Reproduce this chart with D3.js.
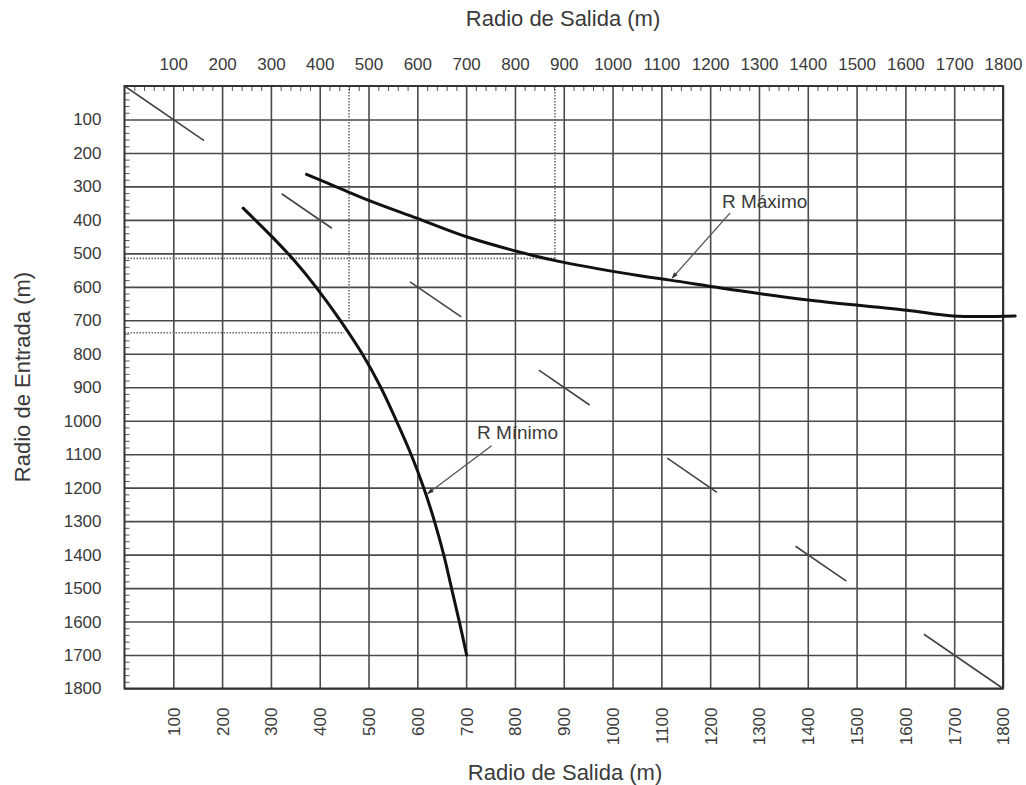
<!DOCTYPE html>
<html>
<head>
<meta charset="utf-8">
<script src="https://cdn.jsdelivr.net/npm/d3@7"></script>
<style>
  html, body { margin: 0; padding: 0; background: #fff; }
  svg { display: block; }
  text { font-family: "Liberation Sans", Arial, sans-serif; fill: #3a3a3a; }
</style>
</head>
<body>
<svg id="chart" width="1026" height="785"></svg>
<script>
// ---------------- DATA ----------------
const salidaTicks  = [100,200,300,400,500,600,700,800,900,1000,1100,1200,1300,1400,1500,1600,1700,1800];
const entradaTicks = [100,200,300,400,500,600,700,800,900,1000,1100,1200,1300,1400,1500,1600,1700,1800];

// R Mínimo curve: [radio de salida, radio de entrada]
const rMinimo = [[243,365],[302,450],[350,525],[392,600],[442,700],[487,800],[525,900],[557,1000],[587,1100],[613,1200],[635,1300],[654,1400],[670,1500],[686,1600],[701,1700]];
// R Máximo curve
const rMaximo = [[373,264],[440,305],[503,343],[599,395],[704,452],[831,504],[900,527],[1056,567],[1118,580],[1261,612],[1405,640],[1603,670],[1698,687],[1825,687]];

// dashed 1:1 line (segments along R salida = R entrada)
const diagonalDashes = [[0,163],[322,425],[585,690],[849,953],[1112,1214],[1375,1479],[1638,1800]];

// dotted reading guides
const guides = [
  [[460,0],[460,700]],
  [[0,737],[450,737]],
  [[882,0],[882,515]],
  [[0,515],[882,515]]
];

// annotations: text anchor point and arrow (from -> to)
const annotations = [
  {label: "R Máximo", text: [1224,363], from: [1241,379], to: [1122,574]},
  {label: "R Mínimo", text: [722,1054], from: [752,1075], to: [621,1218]}
];

// ---------------- CHART ----------------
const svg = d3.select("#chart");
const x = d3.scaleLinear().domain([0,1800]).range([124.5,1003]);
const y = d3.scaleLinear().domain([0,1800]).range([86,688.5]);
const W = x.range()[1] - x.range()[0];
const H = y.range()[1] - y.range()[0];
const fmt = d3.format("d");
const FONT = '"Liberation Sans", Arial, sans-serif';

// grid
const gridX = svg.append("g").attr("transform", `translate(0,${y.range()[0]})`)
  .call(d3.axisBottom(x).tickValues(salidaTicks).tickSize(H).tickFormat(""));
gridX.select(".domain").remove();
gridX.selectAll("line").attr("stroke", "#4a4a4a").attr("stroke-width", 1.6);

const gridY = svg.append("g").attr("transform", `translate(${x.range()[0]},0)`)
  .call(d3.axisRight(y).tickValues(entradaTicks).tickSize(W).tickFormat(""));
gridY.select(".domain").remove();
gridY.selectAll("line").attr("stroke", "#4a4a4a").attr("stroke-width", 1.6);

// minor ticks on top and left edges
const minor = d3.range(20, 1800, 20).filter(v => v % 100 !== 0);
const mTop = svg.append("g").attr("transform", `translate(0,${y.range()[0]})`)
  .call(d3.axisBottom(x).tickValues(minor).tickSize(5).tickFormat(""));
mTop.select(".domain").remove();
mTop.selectAll("line").attr("stroke", "#555").attr("stroke-width", 1);
const mLeft = svg.append("g").attr("transform", `translate(${x.range()[0]},0)`)
  .call(d3.axisRight(y).tickValues(minor).tickSize(5).tickFormat(""));
mLeft.select(".domain").remove();
mLeft.selectAll("line").attr("stroke", "#555").attr("stroke-width", 1);

// dotted guides
const lineGen = d3.line().x(d => x(d[0])).y(d => y(d[1]));
svg.append("g").selectAll("path").data(guides).join("path")
  .attr("d", lineGen).attr("fill", "none")
  .attr("stroke", "#6a6a6a").attr("stroke-width", 1.6).attr("stroke-dasharray", "1.5,1.5");

// dashed diagonal
svg.append("g").selectAll("line").data(diagonalDashes).join("line")
  .attr("x1", d => x(d[0])).attr("y1", d => y(d[0]))
  .attr("x2", d => x(d[1])).attr("y2", d => y(d[1]))
  .attr("stroke", "#444").attr("stroke-width", 1.6);

// frame
svg.append("rect").attr("x", x.range()[0]).attr("y", y.range()[0])
  .attr("width", W).attr("height", H)
  .attr("fill", "none").attr("stroke", "#333").attr("stroke-width", 2);

// curves
const curveGen = d3.line().x(d => x(d[0])).y(d => y(d[1])).curve(d3.curveCatmullRom.alpha(0.5));
[rMinimo, rMaximo].forEach(data => {
  svg.append("path").datum(data).attr("d", curveGen)
    .attr("fill", "none").attr("stroke", "#111").attr("stroke-width", 3)
    .attr("stroke-linecap", "round");
});

// arrow marker
svg.append("defs").append("marker")
  .attr("id", "arr").attr("viewBox", "0 0 10 10").attr("refX", 9).attr("refY", 5)
  .attr("markerWidth", 7).attr("markerHeight", 5).attr("orient", "auto")
  .append("path").attr("d", "M0,1.5 L10,5 L0,8.5 Z").attr("fill", "#333");

const ann = svg.append("g");
annotations.forEach(a => {
  ann.append("line")
    .attr("x1", x(a.from[0])).attr("y1", y(a.from[1]))
    .attr("x2", x(a.to[0])).attr("y2", y(a.to[1]))
    .attr("stroke", "#555").attr("stroke-width", 1.3)
    .attr("marker-end", "url(#arr)");
  ann.append("text").attr("x", x(a.text[0])).attr("y", y(a.text[1]))
    .attr("font-size", 19).text(a.label);
});

// axes labels
const topAxis = svg.append("g").attr("transform", `translate(0,${y.range()[0]})`)
  .call(d3.axisTop(x).tickValues(salidaTicks).tickSize(0).tickPadding(16).tickFormat(fmt));
topAxis.select(".domain").remove();
topAxis.selectAll("text").attr("font-size", 17).attr("fill", "#3a3a3a").attr("font-family", FONT);

const leftAxis = svg.append("g").attr("transform", `translate(${x.range()[0]},0)`)
  .call(d3.axisLeft(y).tickValues(entradaTicks).tickSize(0).tickPadding(23).tickFormat(fmt));
leftAxis.select(".domain").remove();
leftAxis.selectAll("text").attr("font-size", 17).attr("fill", "#3a3a3a").attr("font-family", FONT);

const bottomAxis = svg.append("g").attr("transform", `translate(0,${y.range()[1]})`)
  .call(d3.axisBottom(x).tickValues(salidaTicks).tickSize(0).tickFormat(fmt));
bottomAxis.select(".domain").remove();
bottomAxis.selectAll("text")
  .attr("transform", "rotate(-90)")
  .attr("x", -19).attr("y", 0).attr("dy", "0.35em")
  .attr("text-anchor", "end")
  .attr("font-size", 17).attr("fill", "#3a3a3a").attr("font-family", FONT);

// titles
svg.append("text").attr("x", 563).attr("y", 26).attr("text-anchor", "middle")
  .attr("font-size", 22).text("Radio de Salida (m)");
svg.append("text").attr("x", 565).attr("y", 780).attr("text-anchor", "middle")
  .attr("font-size", 22).text("Radio de Salida (m)");
svg.append("text").attr("transform", "translate(30,377) rotate(-90)")
  .attr("text-anchor", "middle").attr("font-size", 22).text("Radio de Entrada (m)");
</script>
</body>
</html>
